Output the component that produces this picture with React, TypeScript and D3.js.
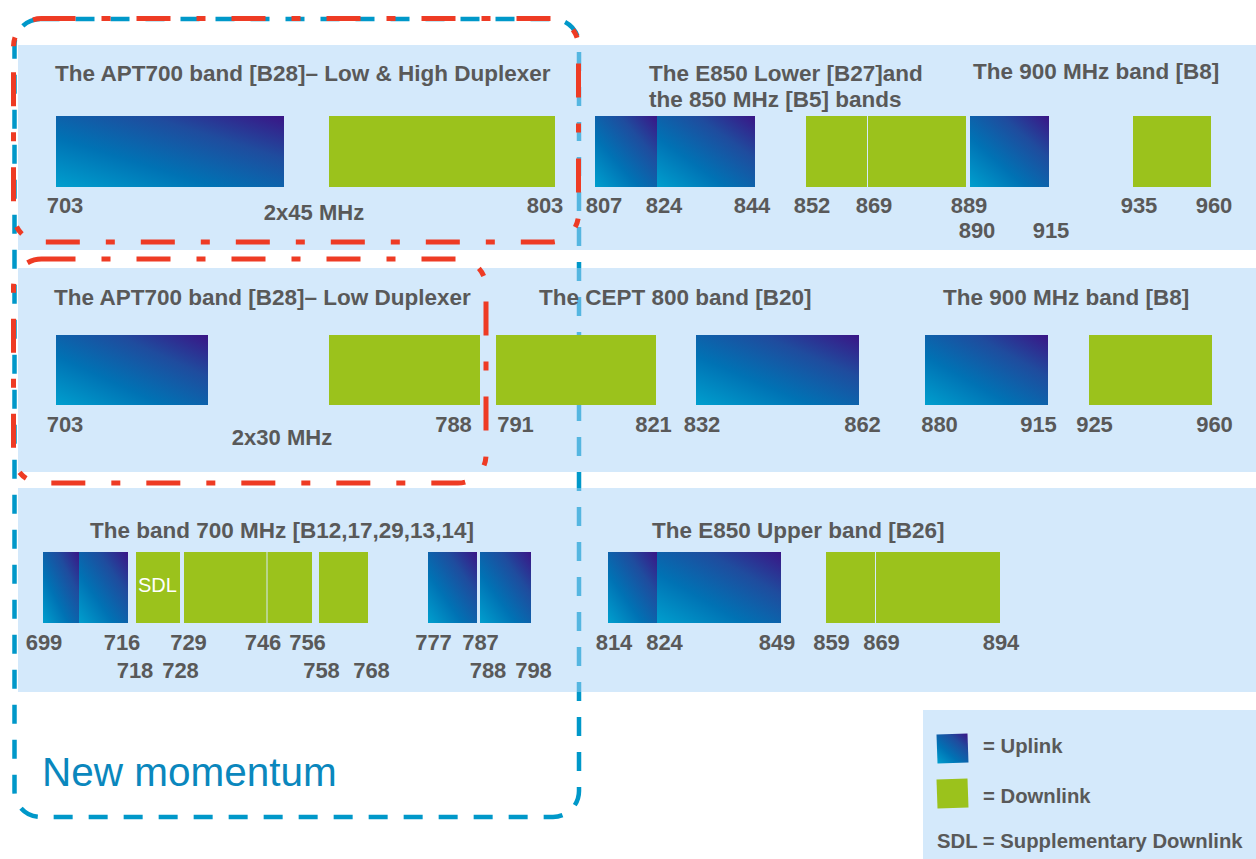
import React from 'react';
import * as d3 from 'd3';

type Link = 'UL' | 'DL' | 'SDL';
interface Band { from: number; to: number; link: Link }

// ---------------- DATA ----------------
// Row 1 : APT700 low & high duplexer, E850 lower + 850 band, 900 band
const row1Bands: Band[] = [
  { from: 703, to: 748, link: 'UL' },
  { from: 758, to: 803, link: 'DL' },
  { from: 807, to: 824, link: 'UL' },
  { from: 824, to: 844, link: 'UL' },
  { from: 852, to: 869, link: 'DL' },
  { from: 869, to: 889, link: 'DL' },
  { from: 890, to: 915, link: 'UL' },
  { from: 935, to: 960, link: 'DL' },
];
const row1TicksTop = [703, 803, 807, 824, 844, 852, 869, 889, 935, 960];
const row1TicksBottom = [890, 915];
const row1Titles = [
  ['The APT700 band [B28]– Low & High Duplexer'],
  ['The E850 Lower [B27]and', 'the 850 MHz [B5] bands'],
  ['The 900 MHz band [B8]'],
];
const row1Notes = ['2x45 MHz'];

// Row 2 : APT700 low duplexer, CEPT 800, 900 band
const row2Bands: Band[] = [
  { from: 703, to: 733, link: 'UL' },
  { from: 758, to: 788, link: 'DL' },
  { from: 791, to: 821, link: 'DL' },
  { from: 832, to: 862, link: 'UL' },
  { from: 880, to: 915, link: 'UL' },
  { from: 925, to: 960, link: 'DL' },
];
const row2TicksTop = [703, 788, 791, 821, 832, 862, 880, 915, 925, 960];
const row2TicksBottom: number[] = [];
const row2Titles = [
  ['The APT700 band [B28]– Low Duplexer'],
  ['The CEPT 800 band [B20]'],
  ['The 900 MHz band [B8]'],
];
const row2Notes = ['2x30 MHz'];

// Row 3 : US 700 band plan, E850 upper
const row3Bands: Band[] = [
  { from: 699, to: 704, link: 'UL' },
  { from: 704, to: 716, link: 'UL' },
  { from: 718, to: 728, link: 'SDL' },
  { from: 729, to: 746, link: 'DL' },
  { from: 746, to: 756, link: 'DL' },
  { from: 758, to: 768, link: 'DL' },
  { from: 777, to: 787, link: 'UL' },
  { from: 788, to: 798, link: 'UL' },
  { from: 814, to: 824, link: 'UL' },
  { from: 824, to: 849, link: 'UL' },
  { from: 859, to: 869, link: 'DL' },
  { from: 869, to: 894, link: 'DL' },
];
const row3TicksTop = [699, 716, 729, 746, 756, 777, 787, 814, 824, 849, 859, 869, 894];
const row3TicksBottom = [718, 728, 758, 768, 788, 798];
const row3Titles = [
  ['The band 700 MHz [B12,17,29,13,14]'],
  ['The E850 Upper band [B26]'],
];
const row3Notes: string[] = [];

const legendItems: { link: Link; label: string }[] = [
  { link: 'UL', label: '= Uplink' },
  { link: 'DL', label: '= Downlink' },
];
const legendNote = 'SDL = Supplementary Downlink';
const momentumLabel = 'New momentum';

// ---------------- LAYOUT / STYLE ----------------
const W = 1256;
const H = 859;
const FONT = '"Liberation Sans", Arial, Helvetica, sans-serif';
const TEXT = '#595959';
const GREEN = '#9bc21c';
const RED = '#ee3b24';
const BLUE_LINE = '#0098c9';
const TITLE_SIZE = 22.5;
const TICK_SIZE = 22;

interface RowLayout {
  panel: [number, number];
  bar: [number, number];
  tickBase: [number, number];
  barStops: number[];
  tickStops: number[];
  titlePos: [number, number][];
  notePos: [number, number][];
}

const row1Layout: RowLayout = {
  panel: [45, 250],
  bar: [116, 187],
  tickBase: [213, 238],
  barStops: [56, 284, 329, 555, 595, 657, 755, 806, 868, 966, 970, 1049, 1133, 1211],
  tickStops: [65, 545, 604, 664, 752, 812, 874, 969, 977, 1051, 1139, 1214],
  titlePos: [[55, 81], [649, 81], [973, 79]],
  notePos: [[314, 220]],
};
const row2Layout: RowLayout = {
  panel: [268, 472],
  bar: [335, 405],
  tickBase: [432, 457],
  barStops: [56, 208, 329, 480, 496, 656, 696, 859, 925, 1048, 1089, 1212],
  tickStops: [65, 453.5, 515.5, 653.5, 702, 862.5, 939.5, 1038.5, 1094.5, 1214.5],
  titlePos: [[54, 305], [539, 305], [943, 305]],
  notePos: [[282, 445]],
};
const row3Layout: RowLayout = {
  panel: [488, 692],
  bar: [552, 623],
  tickBase: [650, 678],
  barStops: [43, 79, 128, 136, 180, 184, 267.5, 312, 319, 368, 428, 477, 480, 531, 608, 657, 781, 826, 876, 1000],
  tickStops: [44, 122, 135, 180.5, 188.5, 263, 307.5, 321.5, 371.5, 433.5, 480.5, 488, 533.5, 614, 664.5, 777, 831.5, 881.5, 1001],
  titlePos: [[90, 538], [652, 538]],
  notePos: [],
};

const sortedUnique = (v: number[]) => Array.from(new Set(v)).sort((a, b) => a - b);

function fillFor(link: Link) {
  return link === 'UL' ? 'url(#uplinkGrad)' : GREEN;
}

interface RowProps {
  bands: Band[];
  ticksTop: number[];
  ticksBottom: number[];
  titles: string[][];
  notes: string[];
  layout: RowLayout;
}

function BandRow({ bands, ticksTop, ticksBottom, titles, notes, layout }: RowProps) {
  const x = d3
    .scaleLinear()
    .domain(sortedUnique(bands.flatMap((b) => [b.from, b.to])))
    .range(layout.barStops);
  const tx = d3
    .scaleLinear()
    .domain(sortedUnique([...ticksTop, ...ticksBottom]))
    .range(layout.tickStops);
  const [y0, y1] = layout.bar;
  return (
    <g>
      <rect
        x={18}
        y={layout.panel[0]}
        width={W - 18}
        height={layout.panel[1] - layout.panel[0]}
        fill="rgb(170,212,247)"
        fillOpacity={0.5}
      />
      {bands.map((b, i) => {
        const adjGreen =
          b.link !== 'UL' && bands.some((o) => o.from === b.to && o.link !== 'UL');
        const x0 = x(b.from);
        const w = x(b.to) - x0 - (adjGreen ? 1 : 0);
        return (
          <g key={i}>
            <rect x={x0} y={y0} width={w} height={y1 - y0} fill={fillFor(b.link)} />
            {b.link === 'SDL' && (
              <text x={x0 + 2} y={y0 + 40} fill="#ffffff" fontSize={20} fontFamily={FONT}>
                SDL
              </text>
            )}
          </g>
        );
      })}
      {titles.map((lines, i) => (
        <text
          key={'t' + i}
          x={layout.titlePos[i][0]}
          y={layout.titlePos[i][1]}
          fill={TEXT}
          fontSize={TITLE_SIZE}
          fontWeight="bold"
          fontFamily={FONT}
        >
          {lines.map((l, j) => (
            <tspan key={j} x={layout.titlePos[i][0]} dy={j === 0 ? 0 : 26}>
              {l}
            </tspan>
          ))}
        </text>
      ))}
      {[ticksTop, ticksBottom].map((arr, line) =>
        arr.map((f) => (
          <text
            key={'k' + line + f}
            x={tx(f)}
            y={layout.tickBase[line]}
            textAnchor="middle"
            fill={TEXT}
            fontSize={TICK_SIZE}
            fontWeight="bold"
            fontFamily={FONT}
          >
            {f}
          </text>
        ))
      )}
      {notes.map((n, i) => (
        <text
          key={'n' + i}
          x={layout.notePos[i][0]}
          y={layout.notePos[i][1]}
          textAnchor="middle"
          fill={TEXT}
          fontSize={TICK_SIZE}
          fontWeight="bold"
          fontFamily={FONT}
        >
          {n}
        </text>
      ))}
    </g>
  );
}

function roundedRectPath(x0: number, y0: number, x1: number, y1: number, r: number) {
  const p = d3.path();
  p.moveTo(x0 + r, y0);
  p.lineTo(x1 - r, y0);
  p.arcTo(x1, y0, x1, y0 + r, r);
  p.lineTo(x1, y1 - r);
  p.arcTo(x1, y1, x1 - r, y1, r);
  p.lineTo(x0 + r, y1);
  p.arcTo(x0, y1, x0, y1 - r, r);
  p.lineTo(x0, y0 + r);
  p.arcTo(x0, y0, x0 + r, y0, r);
  p.closePath();
  return p.toString();
}

export default function App() {
  return (
    <div style={{ position: 'absolute', left: 0, top: 0 }}>
      <svg width={W} height={H} viewBox={`0 0 ${W} ${H}`} style={{ display: 'block', background: '#ffffff' }}>
        <defs>
          <linearGradient id="uplinkGrad" x1="0" y1="1" x2="1" y2="0">
            <stop offset="0" stopColor="#009fce" />
            <stop offset="0.35" stopColor="#0072b4" />
            <stop offset="0.7" stopColor="#1f4c9e" />
            <stop offset="1" stopColor="#3a1586" />
          </linearGradient>
        </defs>
        <rect x={0} y={0} width={W} height={H} fill="#ffffff" />

        {/* New momentum box (behind the panels) */}
        <path
          d={roundedRectPath(14.5, 19, 579, 817, 26)}
          fill="none"
          stroke={BLUE_LINE}
          strokeWidth={4.5}
          strokeDasharray="19 16"
        />

        <BandRow bands={row1Bands} ticksTop={row1TicksTop} ticksBottom={row1TicksBottom} titles={row1Titles} notes={row1Notes} layout={row1Layout} />
        <BandRow bands={row2Bands} ticksTop={row2TicksTop} ticksBottom={row2TicksBottom} titles={row2Titles} notes={row2Notes} layout={row2Layout} />
        <BandRow bands={row3Bands} ticksTop={row3TicksTop} ticksBottom={row3TicksBottom} titles={row3Titles} notes={row3Notes} layout={row3Layout} />

        <text x={42} y={786} fill="#0a87bd" fontSize={40.5} fontFamily={FONT}>
          {momentumLabel}
        </text>

        {/* Legend */}
        <g>
          <rect x={923} y={710} width={W - 923} height={H - 710} fill="rgb(170,212,247)" fillOpacity={0.5} />
          {legendItems.map((it, i) => (
            <g key={it.label}>
              <rect
                x={937}
                y={734 + i * 45}
                width={31}
                height={29}
                fill={fillFor(it.link)}
                transform={`rotate(-2 ${952.5} ${748.5 + i * 45})`}
              />
              <text x={983} y={753 + i * 50} fill={TEXT} fontSize={20.3} fontWeight="bold" fontFamily={FONT}>
                {it.label}
              </text>
            </g>
          ))}
          <text x={937} y={848} fill={TEXT} fontSize={20.3} fontWeight="bold" fontFamily={FONT}>
            {legendNote}
          </text>
        </g>

        {/* Red dash-dot highlight boxes */}
        <path
          d={roundedRectPath(13.5, 18.5, 578.5, 242, 28)}
          fill="none"
          stroke={RED}
          strokeWidth={5}
          strokeDasharray="34 26 9 26"
        />
        <path
          d={roundedRectPath(13.5, 259, 486, 483, 28)}
          fill="none"
          stroke={RED}
          strokeWidth={5}
          strokeDasharray="34 26 9 26"
        />
      </svg>
    </div>
  );
}
